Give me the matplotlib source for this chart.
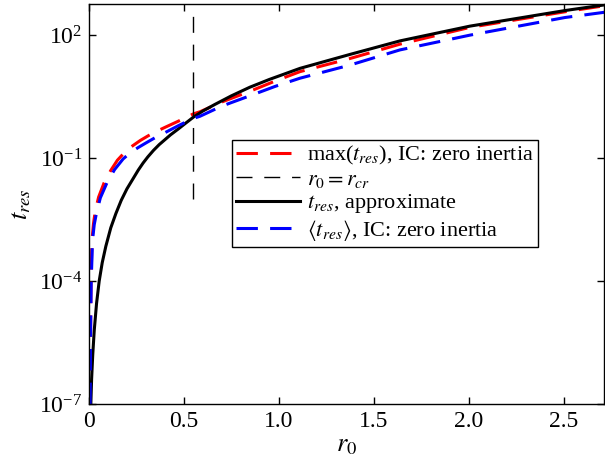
import numpy as np
import matplotlib
matplotlib.use("Agg")
import matplotlib.pyplot as plt

plt.rcParams['font.family'] = ['Liberation Serif', 'DejaVu Serif']
plt.rcParams['mathtext.fontset'] = 'stix'
plt.rcParams['font.size'] = 17

# values (r0, log10 t_res)
r_black = [0.010, 0.014, 0.020, 0.028, 0.040, 0.054, 0.070, 0.089, 0.115, 0.142, 0.170,
           0.200, 0.230, 0.260, 0.285, 0.310, 0.340, 0.370, 0.400, 0.430, 0.470, 0.500,
           0.550, 0.600, 0.663, 0.750, 0.847, 0.950, 1.111, 1.374, 1.637, 2.005, 2.505,
           2.716]
logt_black = [-7.0, -6.4, -5.8, -5.2, -4.55, -4.0, -3.55, -3.15, -2.7, -2.35, -2.03,
              -1.75, -1.52, -1.29, -1.12, -0.97, -0.81, -0.67, -0.55, -0.43, -0.29, -0.18,
              0.0, 0.15, 0.31, 0.52, 0.73, 0.92, 1.19, 1.53, 1.86, 2.22, 2.60,
              2.74]

r_max = [0.006, 0.008, 0.011, 0.016, 0.024, 0.033, 0.051, 0.080, 0.115, 0.150, 0.190,
         0.230, 0.270, 0.310, 0.350, 0.400, 0.470, 0.550, 0.584, 0.700, 0.847, 0.980,
         1.111, 1.374, 1.637, 2.005, 2.505, 2.716]
logt_max = [-7.0, -5.5, -4.0, -3.0, -2.6, -2.3, -1.95, -1.6, -1.3, -1.05, -0.85,
            -0.7, -0.57, -0.46, -0.36, -0.25, -0.1, 0.08, 0.13, 0.37, 0.63, 0.88,
            1.11, 1.43, 1.78, 2.19, 2.57, 2.72]

r_mean = [0.006, 0.008, 0.012, 0.019, 0.028, 0.040, 0.060, 0.095, 0.135, 0.180, 0.220,
          0.260, 0.300, 0.330, 0.360, 0.400, 0.470, 0.550, 0.584, 0.700, 0.847, 0.980,
          1.111, 1.374, 1.637, 2.005, 2.505, 2.716]
logt_mean = [-7.0, -5.5, -4.0, -3.0, -2.62, -2.33, -1.97, -1.6, -1.28, -1.02, -0.86,
             -0.74, -0.63, -0.55, -0.47, -0.38, -0.21, -0.03, 0.02, 0.27, 0.52, 0.75,
             0.95, 1.27, 1.64, 2.0, 2.43, 2.56]

r_cr = 0.55
vline_t = [1e-2, 10**2.6]

fig = plt.figure(figsize=(6.05, 4.61), dpi=100)
ax = fig.add_axes([0.147, 0.1236, 0.851, 0.8677])

ax.plot(r_max, 10**np.array(logt_max), color='red', lw=2.2, dashes=(7, 4),
        label=r'max($t_{res}$), IC: zero inertia')
ax.plot([r_cr, r_cr], vline_t, color='black', lw=1.0, dashes=(11.5, 8.5),
        label=r'$r_0 = r_{cr}$')
ax.plot(r_black, 10**np.array(logt_black), color='black', lw=2.2,
        label=r'$t_{res}$, approximate')
ax.plot(r_mean, 10**np.array(logt_mean), color='blue', lw=2.2, dashes=(7, 4),
        label=r'$\langle t_{res}\rangle$, IC: zero inertia')

ax.set_yscale('log')
ax.set_xlim(0, 2.71)
ax.set_ylim(1e-7, 10**2.76)
ax.set_xticks([0, 0.5, 1.0, 1.5, 2.0, 2.5])
ax.set_xticklabels(['0', '0.5', '1.0', '1.5', '2.0', '2.5'])
ax.set_yticks([1e-7, 1e-4, 1e-1, 1e2])
ax.minorticks_off()
ax.tick_params(direction='in', top=True, right=True, length=5, width=1, pad=5)
for s in ax.spines.values():
    s.set_linewidth(1.0)

ax.set_xlabel(r'$r_0$', fontsize=19, labelpad=2)
ax.set_ylabel(r'$t_{res}$', fontsize=19, labelpad=4)

leg = ax.legend(loc='upper left', bbox_to_anchor=(0.277, 0.66), fontsize=16,
                handlelength=2.9, frameon=True, fancybox=False, framealpha=1,
                borderpad=0.2, labelspacing=0.1, handletextpad=0.3,
                borderaxespad=0)
leg.get_frame().set_edgecolor('black')
leg.get_frame().set_linewidth(1.0)

fig.savefig('out.png', dpi=100)
